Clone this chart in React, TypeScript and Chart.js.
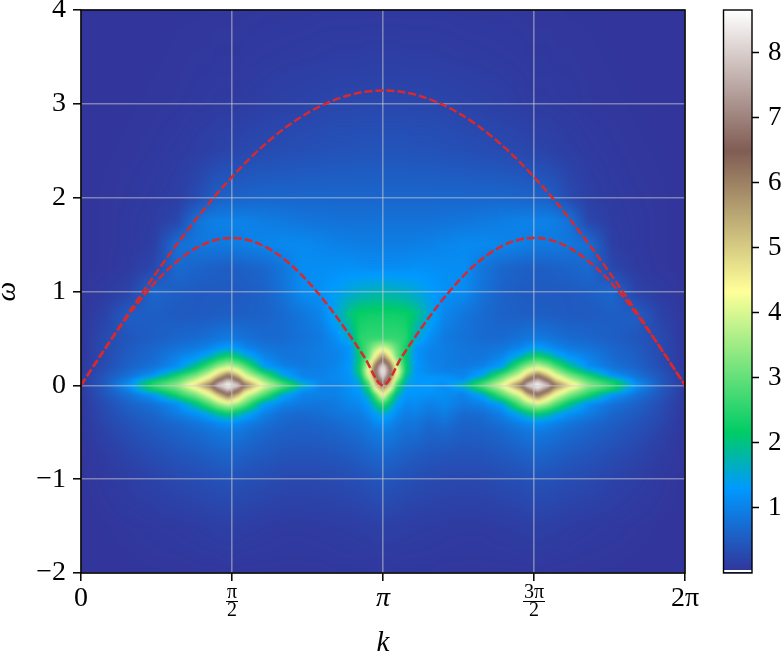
import React, { useEffect, useRef } from "react";
import { Chart, registerables } from "chart.js";

Chart.register(...registerables);

const PI = 3.14159265;
const kTickValues = [0, PI / 2, PI, (3 * PI) / 2, 2 * PI];
const kTickLabels = [["0"], ["π", "2"], ["π"], ["3π", "2"], ["2π"]];
const omegaTicks = [-2, -1, 0, 1, 2, 3, 4];
const cbarTicks = [1, 2, 3, 4, 5, 6, 7, 8];
const cbarMin = 0;
const cbarMax = 8.66;

// Dashed dispersion curves
const lineK = [0,.196,.393,.589,.785,.982,1.178,1.374,1.571,1.767,1.963,2.160,2.356,2.553,2.749,2.945,3.142,3.338,3.534,3.731,3.927,4.123,4.320,4.516,4.712,4.909,5.105,5.301,5.498,5.694,5.890,6.087,6.283];
const upperCurve = [0,.308,.613,.912,1.202,1.481,1.745,1.993,2.221,2.429,2.612,2.771,2.902,3.006,3.081,3.127,3.142,3.127,3.081,3.006,2.902,2.771,2.612,2.429,2.221,1.993,1.745,1.481,1.202,.912,.613,.308,0];
const lowerCurve = [0,.306,.601,.873,1.111,1.306,1.451,1.541,1.571,1.541,1.451,1.306,1.111,.873,.601,.306,0,.306,.601,.873,1.111,1.306,1.451,1.541,1.571,1.541,1.451,1.306,1.111,.873,.601,.306,0];

// Heat map grid
const heatK = [0,.25,.5,.75,1.0,1.2,1.35,1.42,1.53,1.64,1.7,1.9,2.1,2.3,2.5,2.65,2.8,2.9,3.0,3.07,3.14,3.21,3.28,3.38,3.48,3.63,3.78,3.98,4.18,4.38,4.58,4.64,4.75,4.86,4.93,5.08,5.28,5.53,5.78,6.03,6.28];
const heatOmega = [4,3.5,3,2.5,2,1.75,1.5,1.25,1,.75,.5,.4,.3,.2,.15,.1,.05,0,-.05,-.1,-.2,-.3,-.4,-.5,-.75,-1,-1.5,-2];
const heatValues = [
[.03,.03,.03,.03,.04,.04,.05,.05,.05,.05,.05,.06,.06,.06,.07,.07,.07,.07,.07,.07,.07, .07,.07,.07,.07,.07,.07,.06,.06,.06,.05,.05,.05,.05,.05,.04,.04,.03,.03,.03,.03],
[.03,.03,.03,.04,.05,.06,.06,.07,.07,.07,.08,.09,.1,.11,.12,.13,.13,.13,.14,.14,.14, .14,.14,.13,.13,.13,.12,.11,.1,.09,.08,.07,.07,.07,.06,.06,.05,.04,.03,.03,.03],
[.03,.03,.04,.05,.06,.08,.09,.1,.1,.11,.12,.15,.18,.2,.23,.25,.25,.26,.26,.26,.26, .26,.26,.26,.25,.25,.23,.2,.18,.15,.12,.11,.1,.1,.09,.08,.06,.05,.04,.03,.03],
[.03,.04,.05,.07,.1,.14,.17,.2,.22,.25,.27,.3,.33,.36,.38,.4,.4,.42,.42,.42,.42, .42,.42,.42,.4,.4,.38,.36,.33,.3,.27,.25,.22,.2,.17,.14,.1,.07,.05,.04,.03],
[.03,.05,.07,.1,.15,.3,.5,.56,.6,.61,.62,.65,.65,.65,.65,.65,.65,.65,.65,.65,.65, .65,.65,.65,.65,.65,.65,.65,.65,.65,.62,.61,.6,.56,.5,.3,.15,.1,.07,.05,.03],
[.03,.05,.08,.12,.25,.8,.95,.98,1.0,1.0,1.0,.95,.9,.85,.82,.8,.8,.8,.8,.8,.8, .8,.8,.8,.8,.8,.82,.85,.9,.95,1.0,1.0,1.0,.98,.95,.8,.25,.12,.08,.05,.03],
[.03,.05,.08,.14,.75,.85,.9,.9,.9,.95,.98,1.05,1.1,1.1,1.05,1.0,.97,.95,.95,.95,.95, .95,.95,.95,.97,1.0,1.05,1.1,1.1,1.05,.98,.95,.9,.9,.9,.85,.75,.14,.08,.05,.03],
[.03,.05,.1,.25,.7,.62,.58,.56,.55,.56,.58,.65,.85,1.15,1.15,1.18,1.2,1.17,1.15,1.15,1.15, 1.15,1.15,1.17,1.2,1.18,1.15,1.15,.85,.65,.58,.56,.55,.56,.58,.62,.7,.25,.1,.05,.03],
[.04,.1,.2,.65,.55,.5,.5,.5,.5,.51,.52,.6,.8,1.12,1.2,1.35,1.5,1.6,1.65,1.7,1.7, 1.7,1.65,1.6,1.5,1.35,1.2,1.12,.8,.6,.52,.51,.5,.5,.5,.5,.55,.65,.2,.1,.04],
[.05,.2,.55,.55,.5,.5,.52,.54,.55,.55,.56,.6,.7,.85,1.05,1.5,2.05,2.25,2.3,2.3,2.3, 2.3,2.3,2.25,2.05,1.5,1.05,.85,.7,.6,.56,.55,.55,.54,.52,.5,.5,.55,.55,.2,.05],
[.05,.3,.45,.55,.65,.7,.8,.85,.9,.85,.8,.7,.7,.8,.9,1.15,1.6,2.5,2.6,2.6,2.6, 2.6,2.6,2.5,1.6,1.15,.9,.8,.7,.7,.8,.85,.9,.85,.8,.7,.65,.55,.45,.3,.05],
[.06,.3,.5,.65,.8,.9,1.05,1.2,1.35,1.2,1.05,.85,.8,.85,.95,1.05,1.25,2.3,3.0,3.6,4.0, 3.6,3.0,2.3,1.25,1.05,.95,.85,.8,.85,1.05,1.2,1.35,1.2,1.05,.9,.8,.65,.5,.3,.06],
[.06,.3,.55,.7,1.0,1.25,1.7,2.05,2.4,2.05,1.7,1.05,.85,.85,.95,1.0,1.25,2.1,3.2,4.7,6.0, 4.7,3.2,2.1,1.25,1.0,.95,.85,.85,1.05,1.7,2.05,2.4,2.05,1.7,1.25,1.0,.7,.55,.3,.06],
[.06,.33,.6,.8,1.15,2.0,2.9,3.4,3.9,3.4,3.0,1.4,1.0,.9,.95,1.05,1.3,2.2,4.2,6.6,8.4, 6.6,4.2,2.2,1.3,1.05,.95,.9,1.0,1.4,3.0,3.4,3.9,3.4,2.9,2.0,1.15,.8,.6,.33,.06],
[.07,.39,.7,1.0,1.7,2.6,3.6,4.3,5.0,4.3,3.6,2.1,1.3,1.0,.98,1.08,1.25,2.2,4.6,6.9,8.66, 6.9,4.6,2.2,1.25,1.08,.98,1.0,1.3,2.1,3.6,4.3,5.0,4.3,3.6,2.6,1.7,1.0,.7,.39,.07],
[.08,.45,.8,1.25,2.4,3.3,4.3,5.1,6.4,5.2,4.2,2.9,1.5,1.0,1.0,1.1,1.25,1.9,4.2,6.5,8.3, 6.5,4.2,1.9,1.3,1.2,1.2,1.0,1.5,2.9,4.2,5.2,6.4,5.1,4.3,3.3,2.4,1.25,.8,.45,.08],
[.09,.48,1.0,2.17,2.9,4.0,5.2,6.5,7.9,6.6,5.2,3.5,2.3,1.25,1.05,1.08,1.22,1.65,3.4,5.9,7.3, 5.9,3.4,1.65,1.28,1.3,1.25,1.25,2.3,3.5,5.2,6.6,7.9,6.5,5.2,4.0,2.9,2.17,1.0,.48,.09],
[.1,.5,1.25,2.5,3.4,4.9,6.3,7.9,8.66,8.0,6.4,4.2,2.9,1.85,1.05,1.05,1.2,1.45,2.7,5.2,6.3, 5.2,2.7,1.5,1.3,1.3,1.15,1.85,2.9,4.2,6.4,8.0,8.66,7.9,6.3,4.9,3.4,2.5,1.25,.5,.1],
[.09,.48,1.0,2.17,2.9,4.0,5.2,6.5,7.9,6.6,5.2,3.5,2.3,1.25,1.0,1.02,1.18,1.35,2.3,4.2,5.4, 4.2,2.3,1.35,1.28,1.3,1.15,1.25,2.3,3.5,5.2,6.6,7.9,6.5,5.2,4.0,2.9,2.17,1.0,.48,.09],
[.08,.45,.8,1.25,2.4,3.3,4.3,5.1,6.4,5.2,4.2,2.9,1.5,1.0,1.0,1.0,1.15,1.25,1.8,3.0,4.5, 3.0,1.8,1.25,1.25,1.2,1.15,1.0,1.5,2.9,4.2,5.2,6.4,5.1,4.3,3.3,2.4,1.25,.8,.45,.08],
[.07,.33,.6,.8,1.15,2.0,2.9,3.4,3.9,3.4,3.0,1.4,1.0,.9,.85,.9,1.05,1.1,1.4,2.0,2.6, 2.0,1.4,1.1,1.15,.98,1.08,.9,1.0,1.4,3.0,3.4,3.9,3.4,2.9,2.0,1.15,.8,.6,.33,.07],
[.06,.3,.5,.65,.95,1.2,1.6,1.9,2.2,1.9,1.6,1.0,.75,.7,.75,.85,.9,.95,1.15,1.4,1.6, 1.4,1.15,.95,1.0,.85,.95,.7,.75,1.0,1.6,1.9,2.2,1.9,1.6,1.2,.95,.65,.5,.3,.06],
[.05,.25,.42,.55,.7,.85,1.0,1.1,1.2,1.1,1.0,.8,.65,.6,.65,.7,.8,.85,.95,1.1,1.15, 1.1,.95,.85,.85,.7,.8,.6,.65,.8,1.0,1.1,1.2,1.1,1.0,.85,.7,.55,.42,.25,.05],
[.05,.2,.35,.48,.6,.7,.8,.85,.9,.85,.8,.65,.58,.55,.58,.62,.7,.75,.85,.9,.95, .9,.85,.75,.75,.62,.65,.55,.58,.65,.8,.85,.9,.85,.8,.7,.6,.48,.35,.2,.05],
[.04,.12,.22,.32,.42,.48,.55,.58,.62,.58,.55,.48,.42,.4,.42,.45,.5,.55,.6,.65,.65, .65,.6,.55,.5,.45,.42,.4,.42,.48,.55,.58,.62,.58,.55,.48,.42,.32,.22,.12,.04],
[.03,.08,.14,.2,.28,.32,.36,.38,.4,.38,.36,.32,.28,.27,.28,.3,.33,.36,.4,.42,.44, .42,.4,.36,.33,.3,.28,.27,.28,.32,.36,.38,.4,.38,.36,.32,.28,.2,.14,.08,.03],
[.03,.04,.06,.08,.1,.12,.14,.15,.16,.15,.14,.12,.1,.1,.11,.12,.13,.14,.15,.16,.17, .16,.15,.14,.13,.12,.11,.1,.1,.12,.14,.15,.16,.15,.14,.12,.1,.08,.06,.04,.03],
[.03,.03,.03,.04,.04,.05,.05,.05,.06,.05,.05,.05,.05,.05,.05,.06,.06,.06,.06,.07,.07, .07,.06,.06,.06,.06,.05,.05,.05,.05,.05,.05,.06,.05,.05,.05,.04,.04,.03,.03,.03],
];

// matplotlib "terrain" colormap anchors
const cmapPos = [0, 0.15, 0.25, 0.5, 0.75, 1];
const cmapRGB = [[51,51,153],[0,153,255],[0,204,102],[255,255,153],[128,92,84],[255,255,255]];

function colorAt(v: number) {
  const t = Math.max(0, Math.min(1, v / cbarMax));
  let i = 0;
  while (i < cmapPos.length - 2 && t > cmapPos[i + 1]) i++;
  const f = (t - cmapPos[i]) / (cmapPos[i + 1] - cmapPos[i]);
  return cmapRGB[i].map((c, n) => c + (cmapRGB[i + 1][n] - c) * f);
}

function locate(axis: number[], val: number) {
  const asc = axis[axis.length - 1] > axis[0];
  let i = 0;
  while (i < axis.length - 2 && (asc ? val > axis[i + 1] : val < axis[i + 1])) i++;
  const f = (val - axis[i]) / (axis[i + 1] - axis[i]);
  return [i, Math.max(0, Math.min(1, f))];
}

const FONT = "'Liberation Serif', serif";

const zeroPad = (s: any) => { s.paddingLeft = 0; s.paddingRight = 0; s.paddingTop = 0; s.paddingBottom = 0; };

const heatPlugin = {
  id: "heat",
  beforeDraw(chart: any) {
    const { ctx, chartArea: a, scales } = chart;
    const L = Math.round(a.left), T = Math.round(a.top);
    const W = Math.round(a.right - a.left), H = Math.round(a.bottom - a.top);
    const off = document.createElement("canvas");
    off.width = W; off.height = H;
    const oc = off.getContext("2d")!;
    const img = oc.createImageData(W, H);
    const cols: number[][] = [];
    for (let x = 0; x < W; x++) cols.push(locate(heatK, scales.x.getValueForPixel(L + x + 0.5)));
    for (let y = 0; y < H; y++) {
      const [r, fr] = locate(heatOmega, scales.y.getValueForPixel(T + y + 0.5));
      for (let x = 0; x < W; x++) {
        const [c, fc] = cols[x];
        const v =
          heatValues[r][c] * (1 - fr) * (1 - fc) +
          heatValues[r][c + 1] * (1 - fr) * fc +
          heatValues[r + 1][c] * fr * (1 - fc) +
          heatValues[r + 1][c + 1] * fr * fc;
        const rgb = colorAt(v);
        const p = (y * W + x) * 4;
        img.data[p] = rgb[0]; img.data[p + 1] = rgb[1]; img.data[p + 2] = rgb[2]; img.data[p + 3] = 255;
      }
    }
    oc.putImageData(img, 0, 0);
    ctx.save();
    ctx.beginPath(); ctx.rect(L, T, W, H); ctx.clip();
    ctx.drawImage(off, L, T);
    (ctx as any).filter = "blur(1.5px)";
    ctx.drawImage(off, L, T);
    (ctx as any).filter = "none";
    ctx.restore();
  },
  afterDraw(chart: any) {
    const { ctx, chartArea: a, scales } = chart;
    ctx.save();
    ctx.strokeStyle = "#000"; ctx.lineWidth = 1.6;
    ctx.strokeRect(a.left, a.top, a.right - a.left, a.bottom - a.top);
    ctx.lineWidth = 1;
    [PI / 2, (3 * PI) / 2].forEach((v, i) => {
      const x = scales.x.getPixelForValue(v);
      const hw = i === 0 ? 6 : 11;
      ctx.beginPath(); ctx.moveTo(x - hw, 601.5); ctx.lineTo(x + hw, 601.5); ctx.stroke();
    });
    ctx.restore();
  },
};

const cbarPlugin = {
  id: "cbar",
  beforeDraw(chart: any) {
    const { ctx, chartArea: a, scales } = chart;
    const y0 = scales.y.getPixelForValue(cbarMin);
    const y1 = scales.y.getPixelForValue(cbarMax);
    const g = ctx.createLinearGradient(0, y0, 0, y1);
    cmapPos.forEach((p, i) => g.addColorStop(p, `rgb(${cmapRGB[i].join(",")})`));
    ctx.fillStyle = g;
    ctx.fillRect(a.left, y1, a.right - a.left, y0 - y1);
    ctx.fillStyle = "#fff";
    ctx.fillRect(a.left, y0 - 3, a.right - a.left, 2);
  },
  afterDraw(chart: any) {
    const { ctx, chartArea: a } = chart;
    ctx.save();
    ctx.strokeStyle = "#000"; ctx.lineWidth = 1.4;
    ctx.strokeRect(a.left, a.top, a.right - a.left, a.bottom - a.top);
    ctx.restore();
  },
};

export default function App() {
  const mainRef = useRef<HTMLCanvasElement>(null);
  const cbarRef = useRef<HTMLCanvasElement>(null);

  useEffect(() => {
    const main = new Chart(mainRef.current!, {
      type: "scatter",
      data: {
        datasets: [
          { data: lineK.map((k, i) => ({ x: k, y: upperCurve[i] })) },
          { data: lineK.map((k, i) => ({ x: k, y: lowerCurve[i] })) },
        ].map((d) => ({
          ...d,
          showLine: true,
          borderColor: "#d62a2e",
          borderWidth: 2.5,
          borderDash: [8, 3],
          pointRadius: 0,
          cubicInterpolationMode: "monotone",
        })) as any,
      },
      options: {
        animation: false,
        responsive: false,
        events: [],
        layout: { autoPadding: false, padding: { left: 0, right: 15, top: 10, bottom: 0 } },
        plugins: { legend: { display: false }, tooltip: { enabled: false } },
        scales: {
          x: {
            type: "linear",
            min: 0,
            max: 2 * PI,
            afterBuildTicks: (s: any) => { s.ticks = kTickValues.map((value) => ({ value })); },
            afterFit: (s: any) => { s.height = 81; zeroPad(s); },
            grid: { color: "rgba(205,205,205,0.5)", lineWidth: 1.6, tickColor: "#000", tickLength: 8, tickWidth: 1.5 },
            border: { display: false },
            ticks: {
              maxRotation: 0,
              autoSkip: false,
              padding: 3,
              color: "#000",
              font: (c: any) =>
                kTickLabels[c.index]?.length === 2
                  ? { family: FONT, size: 20, lineHeight: 0.875 }
                  : { family: FONT, size: 28, lineHeight: 1.05, style: c.index === 2 ? "italic" : "normal" },
              callback: (_v: any, i: number) => kTickLabels[i],
            },
            title: { display: true, text: "k", color: "#000", font: { family: FONT, size: 29, style: "italic", lineHeight: 1 }, padding: { top: 0, bottom: -4 } },
          },
          y: {
            type: "linear",
            min: -2,
            max: 4,
            afterBuildTicks: (s: any) => { s.ticks = omegaTicks.map((value) => ({ value })); },
            afterFit: (s: any) => { s.width = 81; zeroPad(s); },
            grid: { color: "rgba(205,205,205,0.5)", lineWidth: 1.6, tickColor: "#000", tickLength: 8, tickWidth: 1.5 },
            border: { display: false },
            ticks: {
              padding: 7,
              color: "#000",
              font: { family: FONT, size: 28 },
              callback: (v: any) => String(v).replace("-", "\u2212"),
            },
            title: { display: true, text: "ω", color: "#000", font: { family: FONT, size: 28, style: "italic", lineHeight: 1 }, padding: { top: -6, bottom: 0 } },
          },
        },
      } as any,
      plugins: [heatPlugin],
    });

    const cbar = new Chart(cbarRef.current!, {
      type: "scatter",
      data: { datasets: [] },
      options: {
        animation: false,
        responsive: false,
        events: [],
        layout: { autoPadding: false, padding: { left: 23.5, right: 0, top: 10, bottom: 81 } },
        plugins: { legend: { display: false }, tooltip: { enabled: false } },
        scales: {
          x: { display: false, min: 0, max: 1 },
          y: {
            type: "linear",
            position: "right",
            min: cbarMin,
            max: cbarMax,
            afterBuildTicks: (s: any) => { s.ticks = cbarTicks.map((value) => ({ value })); },
            afterFit: (s: any) => { s.width = 29; zeroPad(s); },
            grid: { drawOnChartArea: false, tickColor: "#000", tickLength: 7, tickWidth: 1.5 },
            border: { display: false },
            ticks: { padding: 9, color: "#000", font: { family: FONT, size: 27 } },
          },
        },
      } as any,
      plugins: [cbarPlugin],
    });

    return () => { main.destroy(); cbar.destroy(); };
  }, []);

  return (
    <div style={{ position: "fixed", left: 0, top: 0, width: 781, height: 654, background: "#fff" }}>
      <canvas ref={mainRef} width={700} height={654} style={{ position: "absolute", left: 0, top: 0 }} />
      <canvas ref={cbarRef} width={81} height={654} style={{ position: "absolute", left: 700, top: 0 }} />
    </div>
  );
}
